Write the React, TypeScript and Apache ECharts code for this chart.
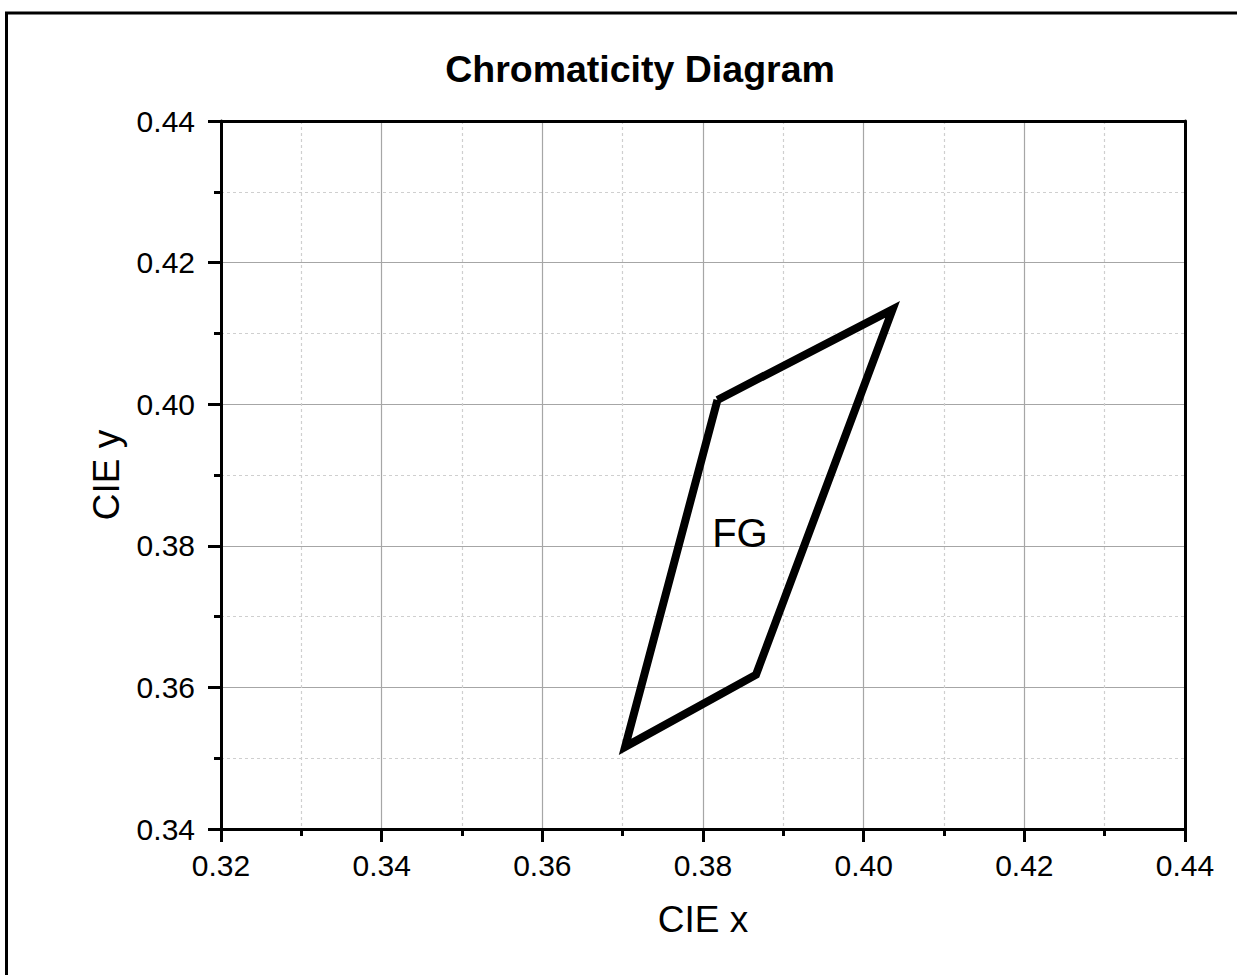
import React, { useEffect, useRef } from "react";
import * as echarts from "echarts";

const xTicks = [0.32, 0.34, 0.36, 0.38, 0.4, 0.42, 0.44];
const yTicks = [0.34, 0.36, 0.38, 0.4, 0.42, 0.44];
const fgX = [0.3818, 0.4036, 0.3866, 0.3703, 0.3818];
const fgY = [0.4006, 0.4134, 0.3618, 0.3516, 0.4006];
const labelName = "FG";
const labelPos = [0.3846, 0.3818];

const FONT = "'Liberation Sans', Arial, Helvetica, sans-serif";

export default function App() {
  const ref = useRef<HTMLDivElement>(null);
  useEffect(() => {
    if (!ref.current) return;
    const chart = echarts.init(ref.current, undefined, { renderer: "svg" });
    const polygon = fgX.map((x, i) => [x, fgY[i]]);
    const xMin = xTicks[0];
    const xMax = xTicks[xTicks.length - 1];
    const yMin = yTicks[0];
    const yMax = yTicks[yTicks.length - 1];
    const black = "#000";
    const axisCommon = {
      type: "value" as const,
      axisLine: { show: true, onZero: false, lineStyle: { color: black, width: 3 } },
      axisTick: { show: true, inside: false, length: 13, lineStyle: { color: black, width: 3 } },
      minorTick: { show: true, splitNumber: 2, length: 7, lineStyle: { color: black, width: 3 } },
      splitLine: { show: true, showMinLine: false, showMaxLine: false, lineStyle: { color: "#a6a6a6", width: 1.2 } },
      minorSplitLine: { show: true, lineStyle: { color: "#cfcfcf", width: 1.2, type: [3, 3] } },
      nameTextStyle: { fontSize: 37, color: black, fontFamily: FONT },
      nameLocation: "middle" as const,
    };
    chart.setOption({
      animation: false,
      backgroundColor: "#fff",
      grid: { left: 221, top: 121, right: 52, bottom: 146, containLabel: false },
      xAxis: [
        {
          ...axisCommon,
          min: xMin,
          max: xMax,
          interval: 0.02,
          position: "bottom",
          name: "CIE x",
          nameGap: 72,
          axisLabel: {
            fontSize: 30,
            color: black,
            fontFamily: FONT,
            margin: 21,
            formatter: (v: number) => v.toFixed(2),
          },
        },
        {
          type: "value",
          min: xMin,
          max: xMax,
          position: "top",
          axisLine: { show: true, onZero: false, lineStyle: { color: black, width: 3 } },
          axisTick: { show: false },
          axisLabel: { show: false },
          splitLine: { show: false },
        },
      ],
      yAxis: [
        {
          ...axisCommon,
          min: yMin,
          max: yMax,
          interval: 0.02,
          position: "left",
          name: "CIE y",
          nameGap: 96,
          axisLabel: {
            fontSize: 30,
            color: black,
            fontFamily: FONT,
            margin: 26,
            formatter: (v: number) => v.toFixed(2),
          },
        },
        {
          type: "value",
          min: yMin,
          max: yMax,
          position: "right",
          axisLine: { show: true, onZero: false, lineStyle: { color: black, width: 3 } },
          axisTick: { show: false },
          axisLabel: { show: false },
          splitLine: { show: false },
        },
      ],
      graphic: [
        {
          type: "rect",
          shape: { x: 6.5, y: 13, width: 1400, height: 1200 },
          style: { fill: "none", stroke: black, lineWidth: 3 },
          silent: true,
        },
        {
          type: "text",
          x: 640,
          y: 69,
          style: {
            text: "Chromaticity Diagram",
            fontSize: 37.5,
            fontWeight: "bold",
            fontFamily: FONT,
            fill: black,
            textAlign: "center",
            textVerticalAlign: "middle",
          },
        },
      ],
      series: [
        {
          type: "line",
          xAxisIndex: 0,
          yAxisIndex: 0,
          data: polygon,
          symbol: "none",
          lineStyle: { color: black, width: 8, join: "miter", cap: "butt" },
          z: 5,
        },
        {
          type: "scatter",
          xAxisIndex: 0,
          yAxisIndex: 0,
          data: [labelPos],
          symbolSize: 0,
          itemStyle: { color: black, opacity: 1 },
          label: {
            show: true,
            position: "inside",
            formatter: labelName,
            fontSize: 40,
            color: black,
            textBorderWidth: 0,
            fontFamily: FONT,
          },
          emphasis: { disabled: true },
          z: 6,
        },
      ],
    });
    return () => chart.dispose();
  }, []);
  return (
    <div
      ref={ref}
      style={{ position: "absolute", left: 0, top: 0, width: 1237, height: 975 }}
    />
  );
}
